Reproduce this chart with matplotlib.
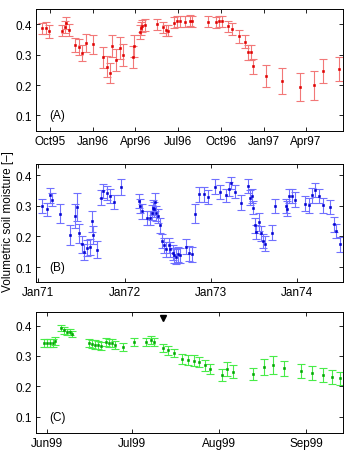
import numpy as np
import pandas as pd
import matplotlib
matplotlib.use("Agg")
import matplotlib.pyplot as plt
import matplotlib.dates as mdates

plt.rcParams["font.family"] = ["Liberation Sans", "DejaVu Sans"]
plt.rcParams["font.size"] = 8.5

# (A) 1995-1997
a_dates = ["1995-09-15", "1995-09-22", "1995-09-29", "1995-10-27", "1995-11-02", "1995-11-05",
           "1995-11-11", "1995-11-25", "1995-12-02", "1995-12-09", "1995-12-18", "1996-01-02",
           "1996-01-24", "1996-01-31", "1996-02-07", "1996-02-12", "1996-02-21", "1996-02-28",
           "1996-03-06", "1996-03-28", "1996-03-30", "1996-04-11", "1996-04-13", "1996-04-16",
           "1996-04-22", "1996-05-18", "1996-05-30", "1996-06-07", "1996-06-11", "1996-06-24",
           "1996-06-29", "1996-07-06", "1996-07-17", "1996-07-27", "1996-08-01", "1996-09-05",
           "1996-09-21", "1996-09-27", "1996-10-03", "1996-10-16", "1996-10-26", "1996-11-09",
           "1996-11-22", "1996-11-29", "1996-12-04", "1996-12-10", "1997-01-06", "1997-02-09",
           "1997-03-20", "1997-04-19", "1997-05-08", "1997-06-11"]
a_vals = [0.386, 0.387, 0.376, 0.378, 0.390, 0.405, 0.382, 0.333, 0.325, 0.305, 0.338, 0.334,
          0.291, 0.260, 0.240, 0.328, 0.281, 0.322, 0.300, 0.292, 0.328, 0.373, 0.386, 0.395,
          0.398, 0.399, 0.390, 0.380, 0.378, 0.405, 0.410, 0.409, 0.408, 0.411, 0.410, 0.408,
          0.407, 0.410, 0.409, 0.393, 0.385, 0.360, 0.343, 0.307, 0.307, 0.261, 0.230, 0.214,
          0.193, 0.199, 0.247, 0.253]
a_err = [0.019, 0.019, 0.020, 0.018, 0.020, 0.020, 0.020, 0.023, 0.025, 0.027, 0.030, 0.031,
         0.035, 0.034, 0.034, 0.035, 0.036, 0.035, 0.036, 0.037, 0.037, 0.023, 0.020, 0.020,
         0.019, 0.018, 0.018, 0.018, 0.018, 0.018, 0.018, 0.018, 0.018, 0.018, 0.018, 0.018,
         0.018, 0.018, 0.018, 0.018, 0.020, 0.021, 0.022, 0.025, 0.025, 0.025, 0.035, 0.042,
         0.045, 0.047, 0.040, 0.040]
a_ticks = ["1995-10-01", "1996-01-01", "1996-04-01", "1996-07-01", "1996-10-01", "1997-01-01", "1997-04-01"]

# (B) 1971-1974
b_dates = ["1971-01-15", "1971-02-05", "1971-02-19", "1971-02-26", "1971-04-02", "1971-05-15",
           "1971-06-05", "1971-06-12", "1971-06-22", "1971-07-03", "1971-07-15", "1971-07-27",
           "1971-08-08", "1971-08-15", "1971-08-22", "1971-09-05", "1971-09-23", "1971-10-03",
           "1971-10-17", "1971-10-31", "1971-11-19", "1971-12-15", "1972-03-01", "1972-03-06",
           "1972-03-15", "1972-04-03", "1972-04-17", "1972-04-24", "1972-05-01", "1972-05-06",
           "1972-05-10", "1972-05-15", "1972-05-22", "1972-05-29", "1972-06-07", "1972-06-14",
           "1972-06-26", "1972-07-06", "1972-07-13", "1972-07-22", "1972-07-29", "1972-08-05",
           "1972-08-14", "1972-08-24", "1972-09-15", "1972-09-28", "1972-10-12", "1972-10-27",
           "1972-11-12", "1972-11-30", "1972-12-21", "1973-01-18", "1973-02-08", "1973-03-05",
           "1973-03-16", "1973-03-26", "1973-04-12", "1973-05-06", "1973-06-07", "1973-06-14",
           "1973-06-21", "1973-06-28", "1973-07-05", "1973-07-12", "1973-07-24", "1973-07-31",
           "1973-08-10", "1973-08-19", "1973-09-14", "1973-09-30", "1973-11-13", "1973-11-20",
           "1973-11-27", "1973-12-11", "1973-12-21", "1974-02-01", "1974-02-19", "1974-03-04",
           "1974-03-16", "1974-04-02", "1974-04-19", "1974-05-20", "1974-06-05", "1974-06-15",
           "1974-06-29"]
b_vals = [0.300, 0.289, 0.335, 0.321, 0.275, 0.204, 0.267, 0.296, 0.210, 0.174, 0.149, 0.163,
          0.167, 0.250, 0.204, 0.156, 0.327, 0.349, 0.343, 0.332, 0.313, 0.362, 0.316, 0.300,
          0.282, 0.261, 0.261, 0.278, 0.294, 0.289, 0.313, 0.276, 0.267, 0.236, 0.185, 0.171,
          0.158, 0.171, 0.158, 0.147, 0.138, 0.134, 0.142, 0.138, 0.167, 0.145, 0.142, 0.275,
          0.338, 0.338, 0.329, 0.363, 0.345, 0.335, 0.356, 0.374, 0.347, 0.311, 0.365, 0.327,
          0.332, 0.294, 0.236, 0.215, 0.247, 0.210, 0.185, 0.176, 0.212, 0.300, 0.300, 0.291,
          0.332, 0.332, 0.321, 0.307, 0.302, 0.335, 0.352, 0.332, 0.302, 0.297, 0.240, 0.218,
          0.174]
b_err = [0.024, 0.022, 0.024, 0.022, 0.030, 0.032, 0.040, 0.046, 0.030, 0.028, 0.026, 0.026,
         0.026, 0.034, 0.030, 0.028, 0.024, 0.022, 0.022, 0.022, 0.022, 0.027, 0.024, 0.024,
         0.024, 0.024, 0.024, 0.024, 0.024, 0.024, 0.030, 0.024, 0.024, 0.024, 0.024, 0.024,
         0.024, 0.024, 0.024, 0.024, 0.024, 0.024, 0.024, 0.024, 0.024, 0.024, 0.024, 0.030,
         0.024, 0.024, 0.022, 0.024, 0.022, 0.022, 0.022, 0.020, 0.022, 0.024, 0.024, 0.024,
         0.024, 0.022, 0.024, 0.024, 0.030, 0.024, 0.024, 0.024, 0.024, 0.024, 0.024, 0.024,
         0.024, 0.024, 0.024, 0.024, 0.024, 0.024, 0.022, 0.024, 0.024, 0.024, 0.024, 0.024,
         0.024]
b_ticks = ["1971-01-01", "1972-01-01", "1973-01-01", "1974-01-01"]

# (C) 1999
c_dates = ["1999-05-31", "1999-06-01", "1999-06-02", "1999-06-03", "1999-06-04", "1999-06-06",
           "1999-06-07", "1999-06-08", "1999-06-09", "1999-06-10", "1999-06-16", "1999-06-17",
           "1999-06-18", "1999-06-19", "1999-06-20", "1999-06-22", "1999-06-23", "1999-06-24",
           "1999-06-25", "1999-06-28", "1999-07-02", "1999-07-06", "1999-07-08", "1999-07-09",
           "1999-07-12", "1999-07-14", "1999-07-16", "1999-07-19", "1999-07-21", "1999-07-23",
           "1999-07-25", "1999-07-27", "1999-07-29", "1999-08-02", "1999-08-04", "1999-08-06",
           "1999-08-13", "1999-08-17", "1999-08-20", "1999-08-24", "1999-08-30", "1999-09-03",
           "1999-09-07", "1999-09-10", "1999-09-13"]
c_vals = [0.342, 0.342, 0.342, 0.342, 0.350, 0.391, 0.384, 0.380, 0.378, 0.373, 0.342, 0.340,
          0.337, 0.336, 0.332, 0.347, 0.343, 0.342, 0.337, 0.329, 0.345, 0.345, 0.353, 0.345,
          0.326, 0.318, 0.310, 0.290, 0.287, 0.285, 0.279, 0.270, 0.257, 0.237, 0.257, 0.248,
          0.241, 0.263, 0.270, 0.259, 0.249, 0.243, 0.237, 0.231, 0.226]
c_err = [0.013, 0.013, 0.013, 0.013, 0.014, 0.010, 0.010, 0.010, 0.010, 0.010, 0.014, 0.014,
         0.014, 0.014, 0.014, 0.013, 0.013, 0.013, 0.013, 0.014, 0.013, 0.013, 0.013, 0.013,
         0.014, 0.014, 0.014, 0.017, 0.017, 0.017, 0.017, 0.018, 0.018, 0.020, 0.022, 0.022,
         0.020, 0.027, 0.030, 0.025, 0.023, 0.023, 0.022, 0.022, 0.022]
c_ticks = ["1999-06-01", "1999-07-01", "1999-08-01", "1999-09-01"]
c_event_date = "1999-07-12"
c_event_y = 0.424

panels = [
    (a_dates, a_vals, a_err, a_ticks, "#e00000", "#f27878", "(A)",
     [0.1023, 0.7112, 0.8805, 0.267], ("1995-09-01", "1997-06-20"), (0.05, 0.45)),
    (b_dates, b_vals, b_err, b_ticks, "#0000d0", "#7070ff", "(B)",
     [0.1023, 0.3787, 0.8805, 0.2593], ("1970-12-21", "1974-07-13"), (0.05, 0.437)),
    (c_dates, c_vals, c_err, c_ticks, "#00a800", "#48ec48", "(C)",
     [0.1023, 0.0476, 0.8805, 0.2667], ("1999-05-28", "1999-09-14"), (0.045, 0.446)),
]

fig = plt.figure(figsize=(3.49, 4.56), dpi=100)
axes = []
for dates, vals, err, ticks, mcol, ecol, label, pos, xlim, ylim in panels:
    ax = fig.add_axes(pos)
    x = pd.to_datetime(dates)
    ax.errorbar(x, vals, yerr=err, fmt="none", ecolor=ecol, elinewidth=0.8,
                capsize=2.6, capthick=0.8)
    ax.plot(x, vals, "s", color=mcol, markersize=2.0, markeredgewidth=0.4,
            markeredgecolor=mcol)
    ax.set_xlim(pd.to_datetime(xlim[0]), pd.to_datetime(xlim[1]))
    ax.set_ylim(*ylim)
    ax.set_yticks([0.1, 0.2, 0.3, 0.4])
    ax.set_xticks(pd.to_datetime(ticks))
    ax.xaxis.set_major_formatter(mdates.DateFormatter("%b%y"))
    ax.tick_params(direction="in", top=True, right=True, length=3, width=0.6, pad=3)
    for s in ax.spines.values():
        s.set_linewidth(0.7)
    ax.text(0.043, 0.13, label, transform=ax.transAxes, va="center", ha="left")
    axes.append(ax)

axes[2].plot(pd.to_datetime(c_event_date), c_event_y, "v", color="black", markersize=5)

fig.text(0.023, 0.515, "Volumetric soil moisture [–]", rotation=90, va="center", ha="center")

fig.savefig("out.png", dpi=100)
